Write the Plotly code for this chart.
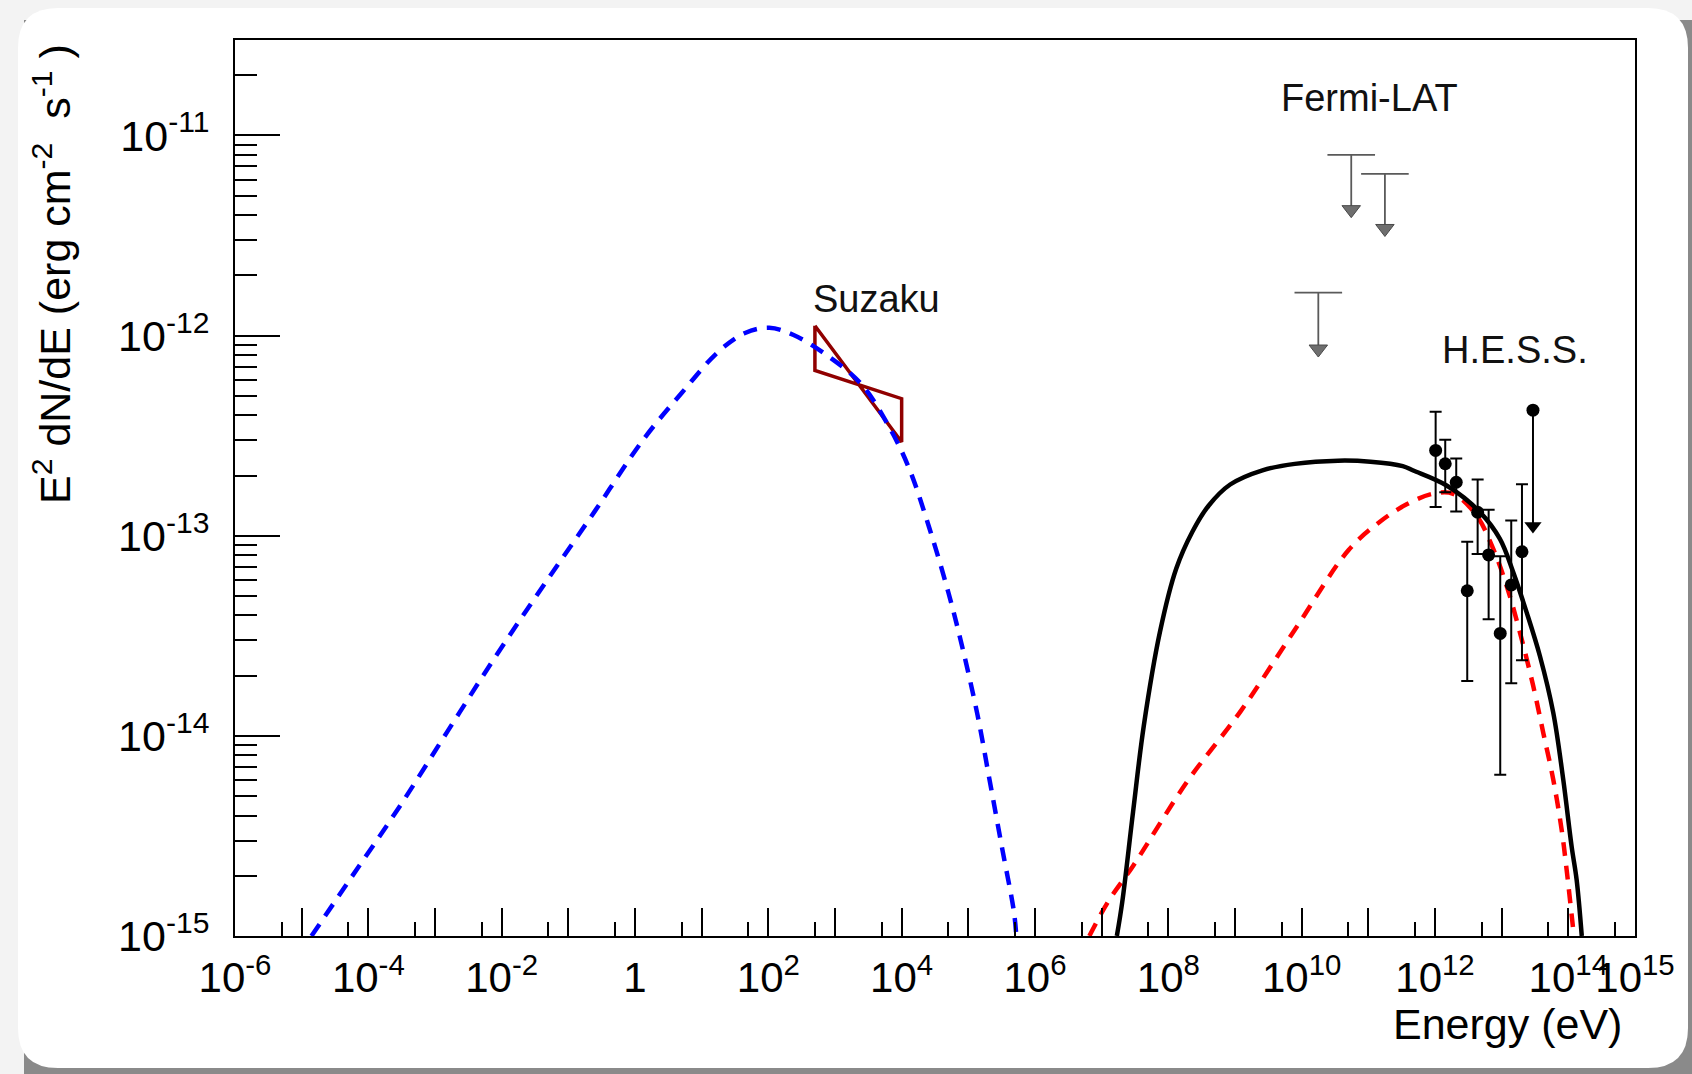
import plotly.graph_objects as go

# ---------------- data ----------------
# synchrotron model (blue dashed): log10(E/eV), log10(E^2 dN/dE)
sync_logE = [-4.853, -4.234, -3.545, -2.817, -2.091, -1.365, -0.602, 0.126, 0.706,
             1.252, 1.651, 2.014, 2.379, 2.887, 3.396, 3.832, 4.122, 4.413, 4.703,
             4.921, 5.140, 5.322, 5.503, 5.685, 5.720]
sync_logF = [-15.0, -14.697, -14.36, -13.98, -13.603, -13.245, -12.877, -12.519, -12.284,
             -12.08, -11.987, -11.961, -11.997, -12.10, -12.243, -12.468, -12.672, -12.959,
             -13.286, -13.572, -13.899, -14.226, -14.554, -14.881, -15.0]

# total model (black solid)
tot_logE = [7.228, 7.309, 7.471, 7.632, 7.875, 8.118, 8.361, 8.604, 8.928, 9.412, 9.898,
            10.546, 11.032, 11.517, 11.674, 12.175, 12.674, 12.974, 13.174, 13.375,
            13.574, 13.774, 13.924, 14.050, 14.125, 14.202]
tot_logF = [-15.0, -14.83, -14.38, -13.95, -13.48, -13.165, -12.98, -12.85, -12.744,
            -12.673, -12.641, -12.625, -12.63, -12.652, -12.674, -12.749, -12.882, -13.016,
            -13.183, -13.383, -13.601, -13.884, -14.218, -14.553, -14.719, -15.0]

# inverse-Compton model (red dashed)
ic_logE = [6.816, 7.094, 7.471, 8.28, 9.089, 9.898, 10.708, 11.174, 11.575, 11.974,
           12.274, 12.625, 12.874, 13.075, 13.274, 13.474, 13.624, 13.774, 13.900,
           13.975, 14.084]
ic_logF = [-15.0, -14.83, -14.65, -14.23, -13.875, -13.47, -13.07, -12.93, -12.843,
           -12.79, -12.791, -12.899, -13.066, -13.25, -13.483, -13.751, -13.984, -14.218,
           -14.469, -14.669, -15.0]

# Suzaku bow-tie
suzaku_E = [500.0, 1.0e4]
suzaku_hi = [1.12e-12, 4.84e-13]
suzaku_lo = [6.7e-13, 2.94e-13]

# Fermi-LAT upper limits
fermi_logE = [10.25, 10.744, 11.249]
fermi_ul = [1.64e-12, 8.0e-12, 6.43e-12]
fermi_arrow_end = [8.57e-13, 4.26e-12, 3.43e-12]

# H.E.S.S. points
hess_logE = [12.01, 12.154, 12.319, 12.484, 12.640, 12.805, 12.979, 13.144, 13.305]
hess_F = [2.67e-13, 2.29e-13, 1.85e-13, 5.31e-14, 1.31e-13, 8.02e-14, 3.25e-14, 5.68e-14, 8.32e-14]
hess_hi = [4.17e-13, 3.02e-13, 2.43e-13, 9.33e-14, 1.91e-13, 1.35e-13, 7.9e-14, 1.19e-13, 1.81e-13]
hess_lo = [1.39e-13, 1.65e-13, 1.32e-13, 1.88e-14, 8.1e-14, 3.83e-14, 6.4e-15, 1.83e-14, 2.39e-14]
hess_ul_logE = [13.47]
hess_ul = [4.24e-13]
hess_ul_arrow_end = [1.12e-13]

x_label_exp = [-6, -4, -2, 0, 2, 4, 6, 8, 10, 12, 14, 15]
x_odd_exp = [-5, -3, -1, 1, 3, 5, 7, 9, 11, 13]
y_major_exp = [-15, -14, -13, -12, -11]

# ---------------- helpers ----------------
W, H = 1692, 1074
L, R, T, B = 235, 1635, 40, 936


def px(xp):
    return (xp - L) / (R - L)


def py(yp):
    return (B - yp) / (B - T)


def e10(v):
    return [10 ** a for a in v]


def lab(n):
    if n == 0:
        return "1"
    return "10<sup>%d</sup>" % n


fig = go.Figure()

# blue curve is placed on the overlaid twin x axis (identical scale) so that the
# twin axis, which carries the unlabeled odd-decade ticks, is drawn
fig.add_trace(go.Scatter(x=e10(sync_logE), y=e10(sync_logF), mode="lines", xaxis="x2",
                         line=dict(color="#0000ff", width=4.5, dash="14px,10px", shape="spline"),
                         showlegend=False))
fig.add_trace(go.Scatter(x=e10(ic_logE), y=e10(ic_logF), mode="lines",
                         line=dict(color="#ff0000", width=4.5, dash="14px,10px", shape="spline"),
                         showlegend=False))
fig.add_trace(go.Scatter(x=e10(tot_logE), y=e10(tot_logF), mode="lines",
                         line=dict(color="#000000", width=4.5, shape="spline"),
                         showlegend=False))

# Suzaku bow-tie
fig.add_trace(go.Scatter(
    x=[suzaku_E[0], suzaku_E[1], suzaku_E[1], suzaku_E[0], suzaku_E[0]],
    y=[suzaku_hi[0], suzaku_lo[1], suzaku_hi[1], suzaku_lo[0], suzaku_hi[0]],
    mode="lines", line=dict(color="#900000", width=3.5), showlegend=False))

# Fermi-LAT upper limits
fE = e10(fermi_logE)
fig.add_trace(go.Scatter(
    x=fE, y=fermi_ul, mode="markers",
    marker=dict(symbol="line-ew", size=34, line=dict(color="#5a5a5a", width=1.8)),
    error_y=dict(type="data", symmetric=False, array=[0] * len(fE),
                 arrayminus=[u - a for u, a in zip(fermi_ul, fermi_arrow_end)],
                 color="#5a5a5a", thickness=1.8, width=0),
    showlegend=False))
fig.add_trace(go.Scatter(
    x=fE, y=fermi_arrow_end, mode="markers",
    marker=dict(symbol="triangle-down", size=16, color="#6e6e6e",
                line=dict(color="#4a4a4a", width=1)),
    showlegend=False))

# H.E.S.S. points
hE = e10(hess_logE)
fig.add_trace(go.Scatter(
    x=hE, y=hess_F, mode="markers",
    marker=dict(symbol="circle", size=13, color="#000000"),
    error_y=dict(type="data", symmetric=False,
                 array=[h - f for h, f in zip(hess_hi, hess_F)],
                 arrayminus=[f - l for f, l in zip(hess_F, hess_lo)],
                 color="#000000", thickness=2, width=6),
    showlegend=False))
hUE = e10(hess_ul_logE)
fig.add_trace(go.Scatter(
    x=hUE, y=hess_ul, mode="markers",
    marker=dict(symbol="circle", size=13, color="#000000"),
    error_y=dict(type="data", symmetric=False, array=[0],
                 arrayminus=[u - a for u, a in zip(hess_ul, hess_ul_arrow_end)],
                 color="#000000", thickness=2, width=0),
    showlegend=False))
fig.add_trace(go.Scatter(
    x=hUE, y=hess_ul_arrow_end, mode="markers",
    marker=dict(symbol="triangle-down", size=15, color="#000000"),
    showlegend=False))

font_family = "Liberation Sans, Arial, Helvetica, sans-serif"

x_minor = [5 * 10 ** n for n in range(-6, 15)]
y_minor = [k * 10 ** n for n in range(-15, -10) for k in range(2, 10) if k * 10 ** n <= 3.0001e-11]

fig.update_layout(
    xaxis=dict(
        type="log", range=[-6, 15.0005],
        showline=True, linecolor="#000000", linewidth=2, mirror=True,
        showgrid=False, zeroline=False,
        ticks="inside", ticklen=28, tickwidth=1.5, tickcolor="#000000",
        tickmode="array",
        tickvals=[10.0 ** n for n in x_label_exp],
        ticktext=[lab(n) for n in x_label_exp],
        tickangle=0,
        tickfont=dict(family=font_family, size=42, color="#000000"),
        ticklabelstandoff=4,
        minor=dict(tickmode="array", tickvals=x_minor, ticks="inside", ticklen=14,
                   tickwidth=1.5, tickcolor="#000000", showgrid=False),
    ),
    xaxis2=dict(
        type="log", range=[-6, 15.0005], overlaying="x", side="bottom", anchor="y",
        showline=False, showgrid=False, zeroline=False,
        ticks="inside", ticklen=28, tickwidth=1.5, tickcolor="#000000",
        tickmode="array", tickvals=[10.0 ** n for n in x_odd_exp],
        showticklabels=False,
    ),
    yaxis=dict(
        type="log", range=[-15, -10.5229],
        showline=True, linecolor="#000000", linewidth=2, mirror=True,
        showgrid=False, zeroline=False,
        ticks="inside", ticklen=45, tickwidth=1.5, tickcolor="#000000",
        tickmode="array",
        tickvals=[10.0 ** n for n in y_major_exp],
        ticktext=[lab(n) for n in y_major_exp],
        tickfont=dict(family=font_family, size=43, color="#000000"),
        ticklabelstandoff=15,
        minor=dict(tickmode="array", tickvals=y_minor, ticks="inside", ticklen=22,
                   tickwidth=1.5, tickcolor="#000000", showgrid=False),
    ),
)

ann_font = dict(family=font_family, size=38, color="#111111")
annotations = [
    dict(text="Suzaku", x=px(876), y=py(299), xref="paper", yref="paper",
         xanchor="center", yanchor="middle", showarrow=False, font=ann_font),
    dict(text="Fermi-LAT", x=px(1369), y=py(98), xref="paper", yref="paper",
         xanchor="center", yanchor="middle", showarrow=False, font=ann_font),
    dict(text="H.E.S.S.", x=px(1515), y=py(350), xref="paper", yref="paper",
         xanchor="center", yanchor="middle", showarrow=False, font=ann_font),
    dict(text="Energy (eV)", x=px(1624), y=py(1024), xref="paper", yref="paper",
         xanchor="right", yanchor="middle", showarrow=False,
         font=dict(family=font_family, size=43, color="#000000")),
    dict(text="E<sup>2</sup> dN/dE (erg cm<sup>-2</sup>  s<sup>-1</sup> )",
         x=px(52), y=py(42), xref="paper", yref="paper", textangle=-90,
         xanchor="center", yanchor="top", showarrow=False,
         font=dict(family=font_family, size=43, color="#000000")),
]

shapes = [
    # shadow of the canvas window
    dict(type="path", xref="paper", yref="paper", layer="below",
         path="M {a},{b} L {c},{b} L {c},{d} L {a},{d} Z".format(
             a=px(24), b=py(20), c=px(1696), d=py(1078)),
         fillcolor="#8a8a8a", line=dict(width=0)),
    dict(type="path", xref="paper", yref="paper", layer="below",
         path=("M {x0},{y0a} Q {x0},{y0} {x0a},{y0} L {x1a},{y0} Q {x1},{y0} {x1},{y0a} "
               "L {x1},{y1a} Q {x1},{y1} {x1a},{y1} L {x0a},{y1} Q {x0},{y1} {x0},{y1a} Z").format(
             x0=px(18), x0a=px(58), x1=px(1688), x1a=px(1648),
             y0=py(8), y0a=py(48), y1=py(1068), y1a=py(1028)),
         fillcolor="#ffffff", line=dict(width=0)),
]

fig.update_layout(
    width=W, height=H,
    margin=dict(l=L, r=W - R, t=T, b=H - B, autoexpand=False),
    paper_bgcolor="#f3f3f3", plot_bgcolor="#ffffff",
    showlegend=False,
    annotations=annotations, shapes=shapes,
)

fig.write_html("out.html")
